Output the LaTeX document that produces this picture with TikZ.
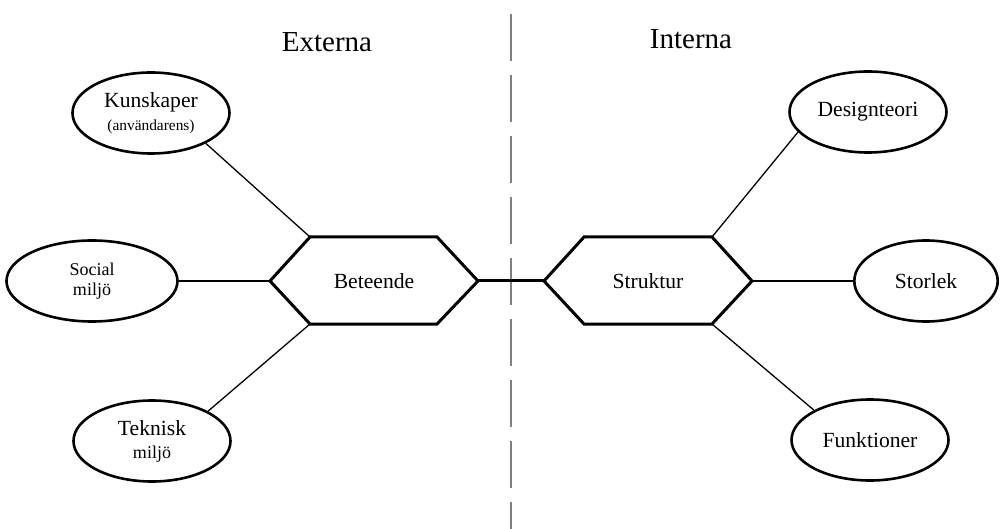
\documentclass[tikz,border=0pt]{standalone}
\usepackage{fontspec}
\setmainfont{Liberation Serif}
\usetikzlibrary{shapes.geometric}
\definecolor{ink}{HTML}{000000}
\definecolor{divider}{HTML}{808080}

\begin{document}
\begin{tikzpicture}[
    x=0.5pt, y=-0.5pt, text=ink,
    factor/.style={draw=ink, ellipse, line width=1.3pt, minimum width=78.5pt,
                   minimum height=40.5pt, inner sep=0pt, align=center,
                   font=\fontsize{10.8}{11.5}\selectfont},
    small/.style={font=\fontsize{9}{10}\selectfont},
    hexa/.style={draw=ink, line width=1.5pt, line join=miter},
    hexlbl/.style={font=\fontsize{10.8}{13}\selectfont},
    title/.style={font=\fontsize{14.5}{17}\selectfont, anchor=base},
    link/.style={draw=ink, line width=0.65pt},
    divide/.style={draw=divider, line width=0.6pt, dash pattern=on 23.5pt off 7pt},
  ]
  \useasboundingbox (0,0) rectangle (1001,529);

  % ---- the two sides
  \node[title] (ext) at (327,52) {Externa};
  \node[title] (int) at (691,49) {Interna};
  \coordinate (divtop) at (511,14);
  \coordinate (divbot) at (511,529);
  \draw[divide] (divtop) -- (divbot);

  % ---- hexagons
  \node[hexlbl] (bet) at (374,281) {Beteende};
  \coordinate (betW) at (270,281);
  \coordinate (betNW) at (310,237);
  \coordinate (betNE) at (437,237);
  \coordinate (betE) at (478,281);
  \coordinate (betSE) at (437,324);
  \coordinate (betSW) at (310,324);
  \draw[hexa] (betW) -- (betNW) -- (betNE) -- (betE) -- (betSE) -- (betSW) -- cycle;

  \node[hexlbl] (str) at (648,281) {Struktur};
  \coordinate (strW) at (544,281);
  \coordinate (strNW) at (584,237);
  \coordinate (strNE) at (712,237);
  \coordinate (strE) at (752,281);
  \coordinate (strSE) at (712,324);
  \coordinate (strSW) at (584,324);
  \draw[hexa] (strW) -- (strNW) -- (strNE) -- (strE) -- (strSE) -- (strSW) -- cycle;

  \draw[hexa] (betE) -- (strW);

  % ---- external factors
  \node[factor] (kun) at (151,113) {Kunskaper\\ {\fontsize{7.7}{9}\selectfont (användarens)}};
  \node[factor, small, minimum width=85.5pt] (soc) at (92,281) {Social\\ miljö};
  \node[factor] (tek) at (152,441) {Teknisk\\ {\fontsize{9}{10}\selectfont miljö}};
  \draw[link] (kun.-29) -- (betNW);
  \draw[link] (soc) -- (betW);
  \draw[link] (tek.28) -- (betSW);

  % ---- internal factors
  \node[factor] (des) at (868,112) {Designteori};
  \node[factor, minimum width=71.7pt] (sto) at (926,281) {Storlek};
  \node[factor] (fun) at (870,440) {Funktioner};
  \draw[link] (des.196) -- (strNE);
  \draw[link] (sto) -- (strE);
  \draw[link] (fun.152) -- (strSE);
\end{tikzpicture}
\end{document}
